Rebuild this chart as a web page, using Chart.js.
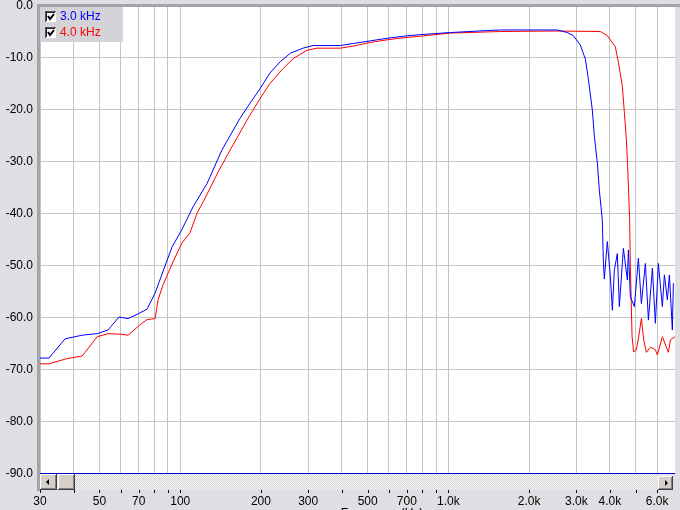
<!DOCTYPE html>
<html>
<head>
<meta charset="utf-8">
<script src="https://cdn.jsdelivr.net/npm/chart.js@4"></script>
<style>
  html, body { margin: 0; padding: 0; background: #dfdfe3; }
  canvas { display: block; }
</style>
</head>
<body>
<canvas id="chart" width="680" height="510"></canvas>
<script>
// Data (frequency in Hz, level in dB)
let seriesNames = ['3.0 kHz', '4.0 kHz'];

let freq3k = [30, 32.4, 37.2, 43.1, 49, 53.8, 59.1, 63.9, 69, 75.2,
    80.6, 88.6, 93.3, 100.7, 111.7, 126, 143, 167, 182, 199,
    216, 236, 257, 287, 313, 395, 442, 511, 591, 679,
    785, 1016, 1300, 1562, 2000, 2548, 2777, 2924, 3105, 3242, 3326, 3442,
    3503, 3594, 3655, 3750, 3782, 3815, 3915, 4019, 4088, 4158,
    4267, 4341, 4494, 4651, 4690, 4772, 4939, 5111, 5245, 5428,
    5571, 5765, 5914, 6068, 6281, 6390, 6557, 6670, 6843, 6903];
let level3k = [-67.9, -67.9, -64.2, -63.5, -63.2, -62.5, -60.0, -60.3, -59.5, -58.5,
    -55.4, -49.6, -46.5, -43.5, -38.8, -34.3, -27.9, -21.8, -18.9, -16.0,
    -13.1, -10.9, -9.3, -8.3, -7.8, -7.8, -7.4, -6.9, -6.4, -6.0,
    -5.7, -5.3, -5.0, -4.8, -4.8, -4.8, -5.3, -5.9, -7.7, -10.4, -14.2, -20.2,
    -25.3, -30.4, -35.6, -41.3, -49.0, -52.7, -45.5, -52.2, -58.7, -51.0,
    -47.8, -58.0, -46.8, -52.9, -47.1, -56.1, -58.0, -48.7, -57.4, -49.7,
    -60.6, -50.6, -61.2, -49.7, -58.0, -51.9, -56.7, -51.9, -62.5, -53.5];

let freq4k = [30, 32.4, 37.8, 43.1, 49, 53.8, 59.6, 63.9, 70.8, 75.2,
    80.6, 82.7, 86.3, 94, 101.4, 108.8, 115.6, 122.8, 138.5, 153.5,
    179, 199, 216, 242, 264, 297, 324, 395, 442, 511,
    591, 679, 785, 1016, 1562, 2500, 3687, 3915, 4194, 4305, 4456,
    4534, 4612, 4662, 4702, 4743, 4772, 4842, 4908, 5024, 5125,
    5245, 5350, 5476, 5667, 5914, 6017, 6281, 6557, 6613, 6729,
    7000];
let level4k = [-69.0, -69.0, -68.0, -67.5, -63.8, -63.2, -63.3, -63.5, -61.5, -60.5,
    -60.3, -56.7, -53.8, -49.4, -45.8, -43.8, -40.0, -37.5, -32.1, -27.9,
    -21.8, -17.9, -15.1, -12.2, -10.3, -8.7, -8.3, -8.3, -7.9, -7.2,
    -6.7, -6.3, -6.0, -5.4, -5.1, -5.0, -5.1, -5.9, -8.0, -11.0, -15.7,
    -20.8, -26.0, -31.1, -36.2, -41.3, -50.3, -63.8, -66.7, -66.3, -63.8,
    -60.3, -64.4, -66.8, -65.8, -66.3, -67.3, -63.8, -66.3, -66.8, -64.4,
    -63.8];

// X axis ticks (log scale) and their labels
let xTickValues = [30, 40, 50, 60, 70, 80, 90, 100, 200, 300, 400, 500, 600, 700, 800, 900,
    1000, 2000, 3000, 4000, 5000, 6000];
let xTickLabels = ['30', '', '50', '', '70', '', '', '100', '200', '300', '', '500', '', '700', '', '',
    '1.0k', '2.0k', '3.0k', '4.0k', '', '6.0k'];
let xTitle = 'Frequency (Hz)';

let fontFamily = '"Liberation Sans", Arial, sans-serif';

function toPoints(xs, ys) {
    return xs.map((x, i) => ({ x: x, y: ys[i] }));
}

// scrollbar fill pattern
function makePattern(ctx) {
    let c = document.createElement('canvas');
    c.width = 2; c.height = 2;
    let p = c.getContext('2d');
    p.fillStyle = '#f4f4f4'; p.fillRect(0, 0, 2, 2);
    p.fillStyle = '#d6d6d6'; p.fillRect(0, 0, 1, 1); p.fillRect(1, 1, 1, 1);
    return ctx.createPattern(c, 'repeat');
}

function drawButton(ctx, x, y, w, h) {
    ctx.fillStyle = '#d4d0c8';
    ctx.fillRect(x, y, w, h);
    ctx.fillStyle = '#ffffff';
    ctx.fillRect(x, y, w - 1, 1);
    ctx.fillRect(x, y, 1, h - 1);
    ctx.fillStyle = '#808080';
    ctx.fillRect(x + 1, y + h - 2, w - 2, 1);
    ctx.fillRect(x + w - 2, y + 1, 1, h - 2);
    ctx.fillStyle = '#404040';
    ctx.fillRect(x, y + h - 1, w, 1);
    ctx.fillRect(x + w - 1, y, 1, h);
}

let framePlugin = {
    id: 'frame',
    beforeDraw(chart) {
        let ctx = chart.ctx, a = chart.chartArea;
        ctx.save();
        ctx.fillStyle = '#dfdfe3';
        ctx.fillRect(0, 0, chart.width, chart.height);
        ctx.fillStyle = '#ffffff';
        ctx.fillRect(a.left, a.top, a.right - a.left, a.bottom - a.top);
        ctx.restore();
    },
    afterDraw(chart) {
        let ctx = chart.ctx, a = chart.chartArea, xs = chart.scales.x;
        ctx.save();

        // frame lines
        ctx.fillStyle = '#a4a4a8';
        ctx.fillRect(a.left - 3, a.top - 1, chart.width - a.left + 3, 3);
        ctx.fillRect(a.left - 3, a.top - 1, 3, a.bottom - a.top + 19);
        ctx.fillStyle = '#0000cc';
        ctx.fillRect(a.left, a.bottom, a.right - a.left, 1);

        // scrollbar
        let sbTop = a.bottom + 1, sbH = 16;
        ctx.fillStyle = makePattern(ctx);
        ctx.fillRect(a.left, sbTop, a.right - a.left - 2, sbH);
        drawButton(ctx, a.left, sbTop, 17, sbH);
        drawButton(ctx, a.left + 18, sbTop, 17, sbH);
        drawButton(ctx, a.right - 17, sbTop + 2, 15, sbH - 2);
        ctx.fillStyle = '#000000';
        ctx.beginPath();
        ctx.moveTo(a.left + 6, sbTop + 8);
        ctx.lineTo(a.left + 9, sbTop + 5);
        ctx.lineTo(a.left + 9, sbTop + 11);
        ctx.closePath();
        ctx.fill();
        ctx.beginPath();
        ctx.moveTo(a.right - 7, sbTop + 9);
        ctx.lineTo(a.right - 10, sbTop + 6);
        ctx.lineTo(a.right - 10, sbTop + 12);
        ctx.closePath();
        ctx.fill();

        // x tick marks below the scrollbar
        ctx.fillStyle = '#000000';
        xTickValues.forEach(v => {
            let px = Math.round(xs.getPixelForValue(v));
            ctx.fillRect(px, a.bottom + 17, 1, 3);
        });

        // axis title, clipped by the bottom edge
        ctx.font = '12px ' + fontFamily;
        ctx.textAlign = 'center';
        ctx.textBaseline = 'alphabetic';
        ctx.fillStyle = '#000000';
        ctx.fillText(xTitle, 382, 517);

        // legend with check boxes
        ctx.fillStyle = '#d4d4d8';
        ctx.fillRect(a.left, a.top + 2, 83, 35);
        chart.data.datasets.forEach((ds, i) => {
            let by = 11 + i * 16;
            ctx.fillStyle = '#ffffff';
            ctx.fillRect(45, by, 11, 11);
            ctx.fillStyle = '#555555';
            ctx.fillRect(45, by, 11, 1);
            ctx.fillRect(45, by, 1, 11);
            ctx.fillStyle = '#202020';
            ctx.fillRect(46, by + 1, 9, 1);
            ctx.fillRect(46, by + 1, 1, 9);
            ctx.strokeStyle = '#000000';
            ctx.lineWidth = 2;
            ctx.beginPath();
            ctx.moveTo(48, by + 5);
            ctx.lineTo(50, by + 8);
            ctx.lineTo(54, by + 3);
            ctx.stroke();
            ctx.font = '12px ' + fontFamily;
            ctx.textAlign = 'left';
            ctx.textBaseline = 'middle';
            ctx.fillStyle = ds.borderColor;
            ctx.fillText(ds.label, 60, by + 5.5);
        });
        ctx.restore();
    }
};

new Chart(document.getElementById('chart').getContext('2d'), {
    type: 'line',
    data: {
        datasets: [
            {
                label: seriesNames[0],
                data: toPoints(freq3k, level3k),
                borderColor: '#0000ff',
                borderWidth: 1,
                pointRadius: 0,
                tension: 0
            },
            {
                label: seriesNames[1],
                data: toPoints(freq4k, level4k),
                borderColor: '#ff0000',
                borderWidth: 1,
                pointRadius: 0,
                tension: 0
            }
        ]
    },
    options: {
        responsive: false,
        animation: false,
        devicePixelRatio: 1,
        layout: { padding: { top: 5, right: 5, left: 0, bottom: 0 } },
        plugins: {
            legend: { display: false },
            tooltip: { enabled: false }
        },
        scales: {
            x: {
                type: 'logarithmic',
                min: 30,
                max: 7000,
                afterBuildTicks: scale => {
                    scale.ticks = xTickValues.map(v => ({ value: v }));
                },
                afterFit: scale => {
                    scale.height = 37;
                    scale.paddingLeft = 0;
                    scale.paddingRight = 0;
                },
                border: { display: false },
                grid: { color: '#c4c4c4', lineWidth: 1, drawTicks: false },
                ticks: {
                    autoSkip: false,
                    maxRotation: 0,
                    padding: 21,
                    color: '#000000',
                    font: { size: 12, family: fontFamily },
                    callback: value => {
                        let i = xTickValues.indexOf(value);
                        return i >= 0 ? xTickLabels[i] : '';
                    }
                }
            },
            y: {
                min: -90,
                max: 0,
                afterFit: scale => {
                    scale.width = 40;
                    scale.paddingTop = 0;
                    scale.paddingBottom = 0;
                },
                border: { display: false },
                grid: { color: '#c4c4c4', lineWidth: 1, drawTicks: false },
                ticks: {
                    stepSize: 10,
                    padding: 7,
                    labelOffset: 1,
                    color: '#000000',
                    font: { size: 12, family: fontFamily },
                    callback: value => value.toFixed(1)
                }
            }
        }
    },
    plugins: [framePlugin]
});
</script>
</body>
</html>
